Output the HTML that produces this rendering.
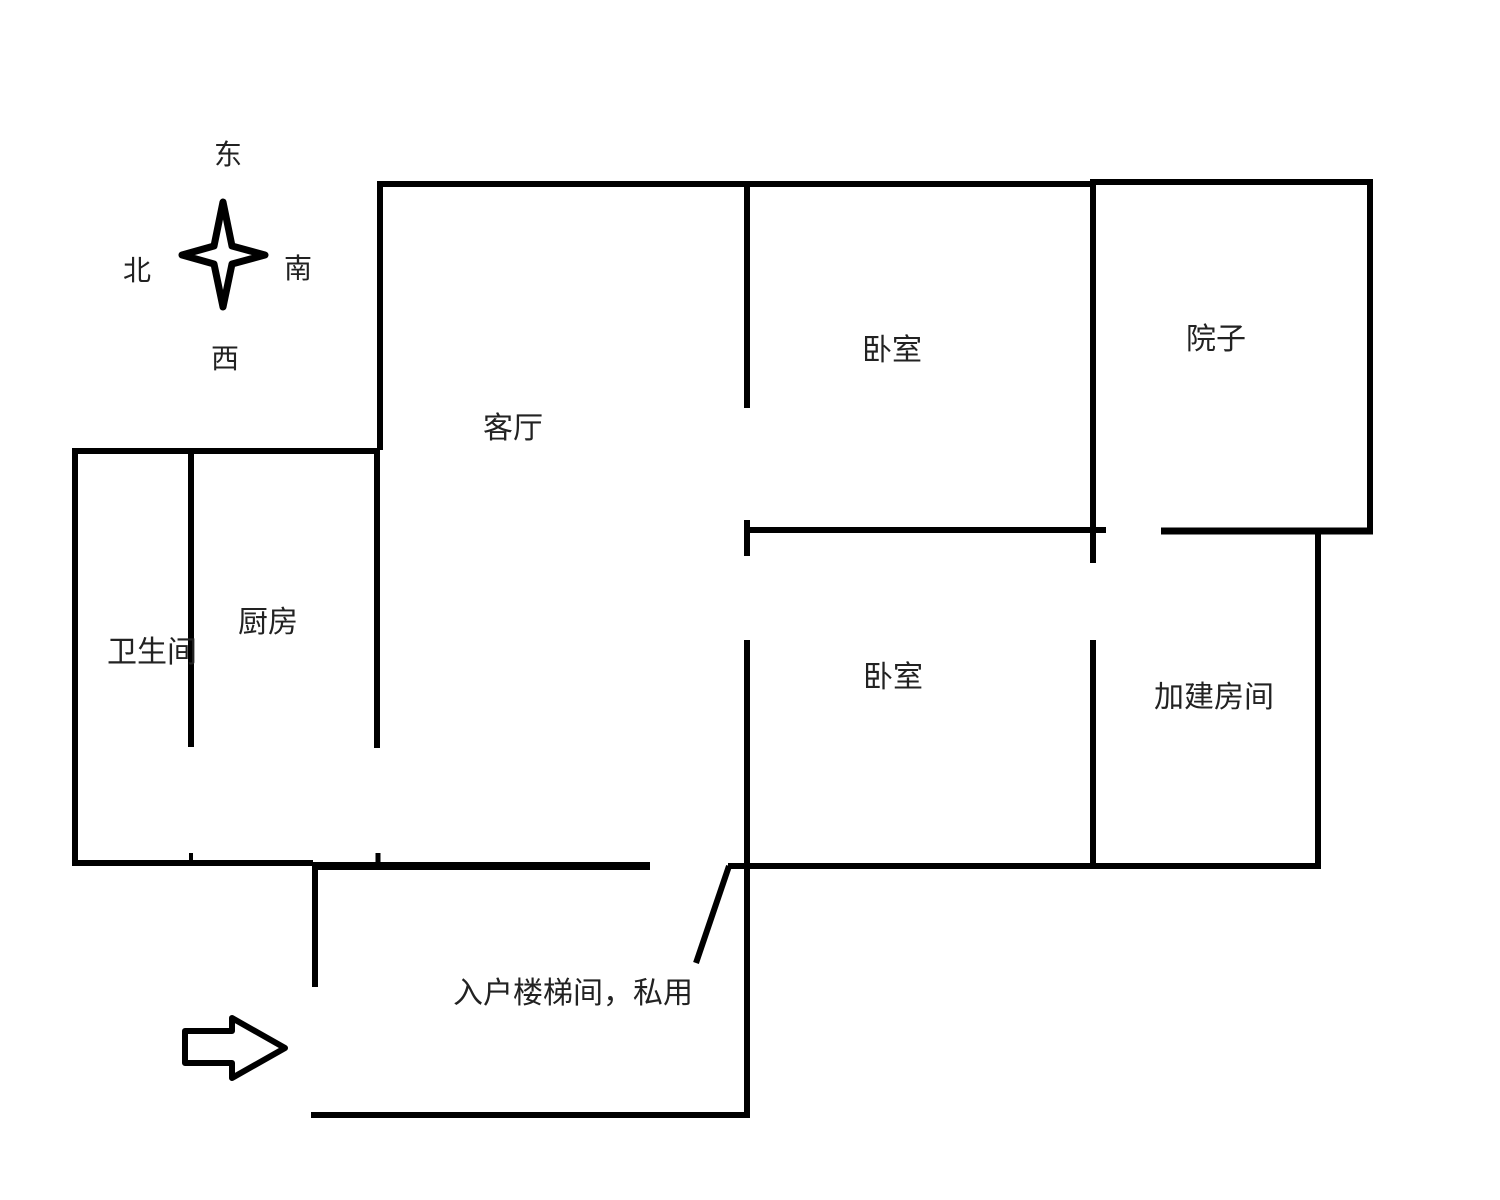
<!DOCTYPE html>
<html><head><meta charset="utf-8"><style>
html,body{margin:0;padding:0;background:#fff;}
svg{display:block}
text{font-family:"Liberation Sans","Noto Sans CJK SC",sans-serif;fill:#222;}
</style></head><body>
<svg width="1500" height="1200" viewBox="0 0 1500 1200" xmlns="http://www.w3.org/2000/svg">
<g stroke="#000" stroke-width="6" fill="none" stroke-linecap="butt">
<line x1="377" y1="184" x2="1093" y2="184"/>
<line x1="380" y1="181" x2="380" y2="450"/>
<line x1="377" y1="450" x2="377" y2="748"/>
<line x1="73" y1="451" x2="380" y2="451"/>
<line x1="75" y1="448" x2="75" y2="866"/>
<line x1="191" y1="451" x2="191" y2="747"/>
<line x1="73" y1="863" x2="313" y2="863"/>
<line x1="313" y1="866" x2="650" y2="866" stroke-width="8"/>
<line x1="191" y1="853" x2="191" y2="863" stroke-width="4"/>
<line x1="378" y1="853" x2="378" y2="863" stroke-width="5"/>
<line x1="747" y1="184" x2="747" y2="408"/>
<line x1="747" y1="520" x2="747" y2="556"/>
<line x1="747" y1="640" x2="747" y2="1118"/>
<line x1="744" y1="530" x2="1106" y2="530"/>
<line x1="1093" y1="179" x2="1093" y2="563"/>
<line x1="1093" y1="640" x2="1093" y2="866"/>
<line x1="1090" y1="182" x2="1373" y2="182"/>
<line x1="1370" y1="180" x2="1370" y2="532"/>
<line x1="1161" y1="531" x2="1373" y2="531" stroke-width="7"/>
<line x1="1318" y1="531" x2="1318" y2="869"/>
<line x1="728" y1="866" x2="1321" y2="866"/>
<line x1="729" y1="866" x2="696" y2="963"/>
<line x1="315" y1="866" x2="315" y2="987"/>
<line x1="311" y1="1115" x2="750" y2="1115"/>
<path d="M185 1031 L232 1031 L232 1018 L285 1048 L232 1078 L232 1063 L185 1063 Z" stroke-width="6" stroke-linejoin="round"/>
<path d="M223 202 L232 246 L265 255 L232 264 L223 307 L214 264 L182 255 L214 246 Z" stroke-width="7" stroke-linejoin="round"/>
</g>
<g font-size="28" text-anchor="middle">
<text x="228" y="164">东</text>
<text x="137" y="280">北</text>
<text x="298" y="278">南</text>
<text x="225" y="368">西</text>
</g>
<g font-size="30" text-anchor="middle">
<text x="513" y="438">客厅</text>
<text x="892" y="360">卧室</text>
<text x="1216" y="349">院子</text>
<text x="268" y="632">厨房</text>
<text x="152" y="662">卫生间</text>
<text x="893" y="687">卧室</text>
<text x="1214" y="707">加建房间</text>
<text x="573" y="1003">入户楼梯间，私用</text>
</g>
</svg>
</body></html>
